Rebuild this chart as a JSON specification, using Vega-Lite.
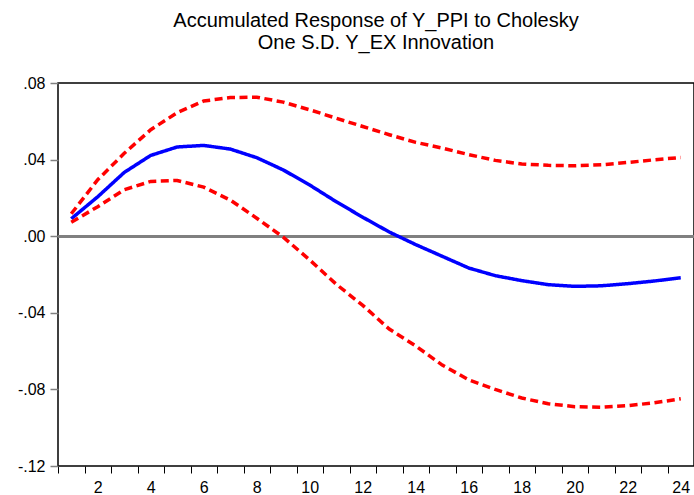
{
  "$schema": "https://vega.github.io/schema/vega-lite/v6.json",
  "autosize": {"type": "none"},
  "padding": {"left": 58, "top": 83, "right": 0, "bottom": 29},
  "width": 636,
  "height": 383,
  "background": "white",
  "config": {
    "font": "Liberation Sans",
    "view": {"stroke": "#000000", "strokeWidth": 1.5},
    "axis": {"grid": false, "domain": false, "title": null, "labelFont": "Liberation Sans", "labelColor": "#000000", "labelFontSize": 16}
  },
  "title": {
    "text": ["Accumulated Response of Y_PPI to Cholesky", "One S.D. Y_EX Innovation"],
    "anchor": "middle",
    "frame": "group",
    "font": "Liberation Sans",
    "fontSize": 20,
    "fontWeight": "normal",
    "color": "#000000",
    "lineHeight": 22.5,
    "offset": 22
  },
  "datasets": {
    "irf": [
      {"period": 1, "series": "response", "value": 0.0091},
      {"period": 2, "series": "response", "value": 0.0206},
      {"period": 3, "series": "response", "value": 0.0333},
      {"period": 4, "series": "response", "value": 0.0422},
      {"period": 5, "series": "response", "value": 0.0466},
      {"period": 6, "series": "response", "value": 0.0474},
      {"period": 7, "series": "response", "value": 0.0455},
      {"period": 8, "series": "response", "value": 0.041},
      {"period": 9, "series": "response", "value": 0.0346},
      {"period": 10, "series": "response", "value": 0.0267},
      {"period": 11, "series": "response", "value": 0.018},
      {"period": 12, "series": "response", "value": 0.0099},
      {"period": 13, "series": "response", "value": 0.0022},
      {"period": 14, "series": "response", "value": -0.0044},
      {"period": 15, "series": "response", "value": -0.0105},
      {"period": 16, "series": "response", "value": -0.0166},
      {"period": 17, "series": "response", "value": -0.0206},
      {"period": 18, "series": "response", "value": -0.0232},
      {"period": 19, "series": "response", "value": -0.0253},
      {"period": 20, "series": "response", "value": -0.0262},
      {"period": 21, "series": "response", "value": -0.0259},
      {"period": 22, "series": "response", "value": -0.0248},
      {"period": 23, "series": "response", "value": -0.0234},
      {"period": 24, "series": "response", "value": -0.0217},
      {"period": 1, "series": "upper", "value": 0.0117},
      {"period": 2, "series": "upper", "value": 0.0295},
      {"period": 3, "series": "upper", "value": 0.0433},
      {"period": 4, "series": "upper", "value": 0.0556},
      {"period": 5, "series": "upper", "value": 0.0645},
      {"period": 6, "series": "upper", "value": 0.0706},
      {"period": 7, "series": "upper", "value": 0.0724},
      {"period": 8, "series": "upper", "value": 0.0726},
      {"period": 9, "series": "upper", "value": 0.07},
      {"period": 10, "series": "upper", "value": 0.066},
      {"period": 11, "series": "upper", "value": 0.0616},
      {"period": 12, "series": "upper", "value": 0.0573},
      {"period": 13, "series": "upper", "value": 0.053},
      {"period": 14, "series": "upper", "value": 0.049},
      {"period": 15, "series": "upper", "value": 0.046},
      {"period": 16, "series": "upper", "value": 0.0426},
      {"period": 17, "series": "upper", "value": 0.0396},
      {"period": 18, "series": "upper", "value": 0.0377},
      {"period": 19, "series": "upper", "value": 0.037},
      {"period": 20, "series": "upper", "value": 0.0368},
      {"period": 21, "series": "upper", "value": 0.0373},
      {"period": 22, "series": "upper", "value": 0.0385},
      {"period": 23, "series": "upper", "value": 0.0399},
      {"period": 24, "series": "upper", "value": 0.0411},
      {"period": 1, "series": "lower", "value": 0.0073},
      {"period": 2, "series": "lower", "value": 0.0154},
      {"period": 3, "series": "lower", "value": 0.0243},
      {"period": 4, "series": "lower", "value": 0.0286},
      {"period": 5, "series": "lower", "value": 0.0291},
      {"period": 6, "series": "lower", "value": 0.0256},
      {"period": 7, "series": "lower", "value": 0.0189},
      {"period": 8, "series": "lower", "value": 0.0094},
      {"period": 9, "series": "lower", "value": -0.0005},
      {"period": 10, "series": "lower", "value": -0.0124},
      {"period": 11, "series": "lower", "value": -0.0251},
      {"period": 12, "series": "lower", "value": -0.0361},
      {"period": 13, "series": "lower", "value": -0.0485},
      {"period": 14, "series": "lower", "value": -0.0573},
      {"period": 15, "series": "lower", "value": -0.0673},
      {"period": 16, "series": "lower", "value": -0.075},
      {"period": 17, "series": "lower", "value": -0.08},
      {"period": 18, "series": "lower", "value": -0.0845},
      {"period": 19, "series": "lower", "value": -0.0875},
      {"period": 20, "series": "lower", "value": -0.089},
      {"period": 21, "series": "lower", "value": -0.0893},
      {"period": 22, "series": "lower", "value": -0.0885},
      {"period": 23, "series": "lower", "value": -0.087},
      {"period": 24, "series": "lower", "value": -0.0849}
    ]
  },
  "data": {"name": "irf"},
  "resolve": {"axis": {"x": "independent"}},
  "layer": [
    {
      "mark": {"type": "rule", "color": "#808080", "strokeWidth": 2},
      "encoding": {
        "y": {"datum": 0, "type": "quantitative", "scale": {"domain": [-0.12, 0.08], "nice": false, "zero": false}}
      }
    },
    {
      "mark": {"type": "line", "strokeWidth": 3.5, "interpolate": "linear", "strokeCap": "butt"},
      "encoding": {
        "x": {
          "field": "period", "type": "quantitative",
          "scale": {"domain": [0.5, 24.5], "nice": false, "zero": false},
          "axis": {
            "orient": "bottom",
            "values": [0.5, 1.5, 2.5, 3.5, 4.5, 5.5, 6.5, 7.5, 8.5, 9.5, 10.5, 11.5, 12.5, 13.5, 14.5, 15.5, 16.5, 17.5, 18.5, 19.5, 20.5, 21.5, 22.5, 23.5, 24.5],
            "labels": false, "ticks": true, "tickSize": 7, "tickColor": "#000000", "tickWidth": 1
          }
        },
        "y": {
          "field": "value", "type": "quantitative",
          "scale": {"domain": [-0.12, 0.08], "nice": false, "zero": false},
          "axis": {
            "values": [-0.12, -0.08, -0.04, 0, 0.04, 0.08],
            "labelExpr": "replace(replace(format(datum.value, '.2f'), '0.', '.'), '\u2212', '-')",
            "tickSize": 8, "tickColor": "#808080", "tickWidth": 1.5, "labelPadding": 5
          }
        },
        "color": {
          "field": "series", "type": "nominal", "legend": null,
          "scale": {"domain": ["response", "upper", "lower"], "range": ["#0000FF", "#FF0000", "#FF0000"]}
        },
        "strokeDash": {
          "field": "series", "type": "nominal", "legend": null,
          "scale": {"domain": ["response", "upper", "lower"], "range": [[1, 0], [8, 4.5], [8, 4.5]]}
        }
      }
    },
    {
      "mark": {"type": "line", "opacity": 0},
      "encoding": {
        "x": {
          "field": "period", "type": "quantitative",
          "scale": {"domain": [0.5, 24.5], "nice": false, "zero": false},
          "axis": {
            "orient": "bottom",
            "values": [2, 4, 6, 8, 10, 12, 14, 16, 18, 20, 22, 24],
            "ticks": false, "tickSize": 0, "labelPadding": 13
          }
        },
        "y": {"field": "value", "type": "quantitative"},
        "detail": {"field": "series"}
      }
    }
  ]
}
